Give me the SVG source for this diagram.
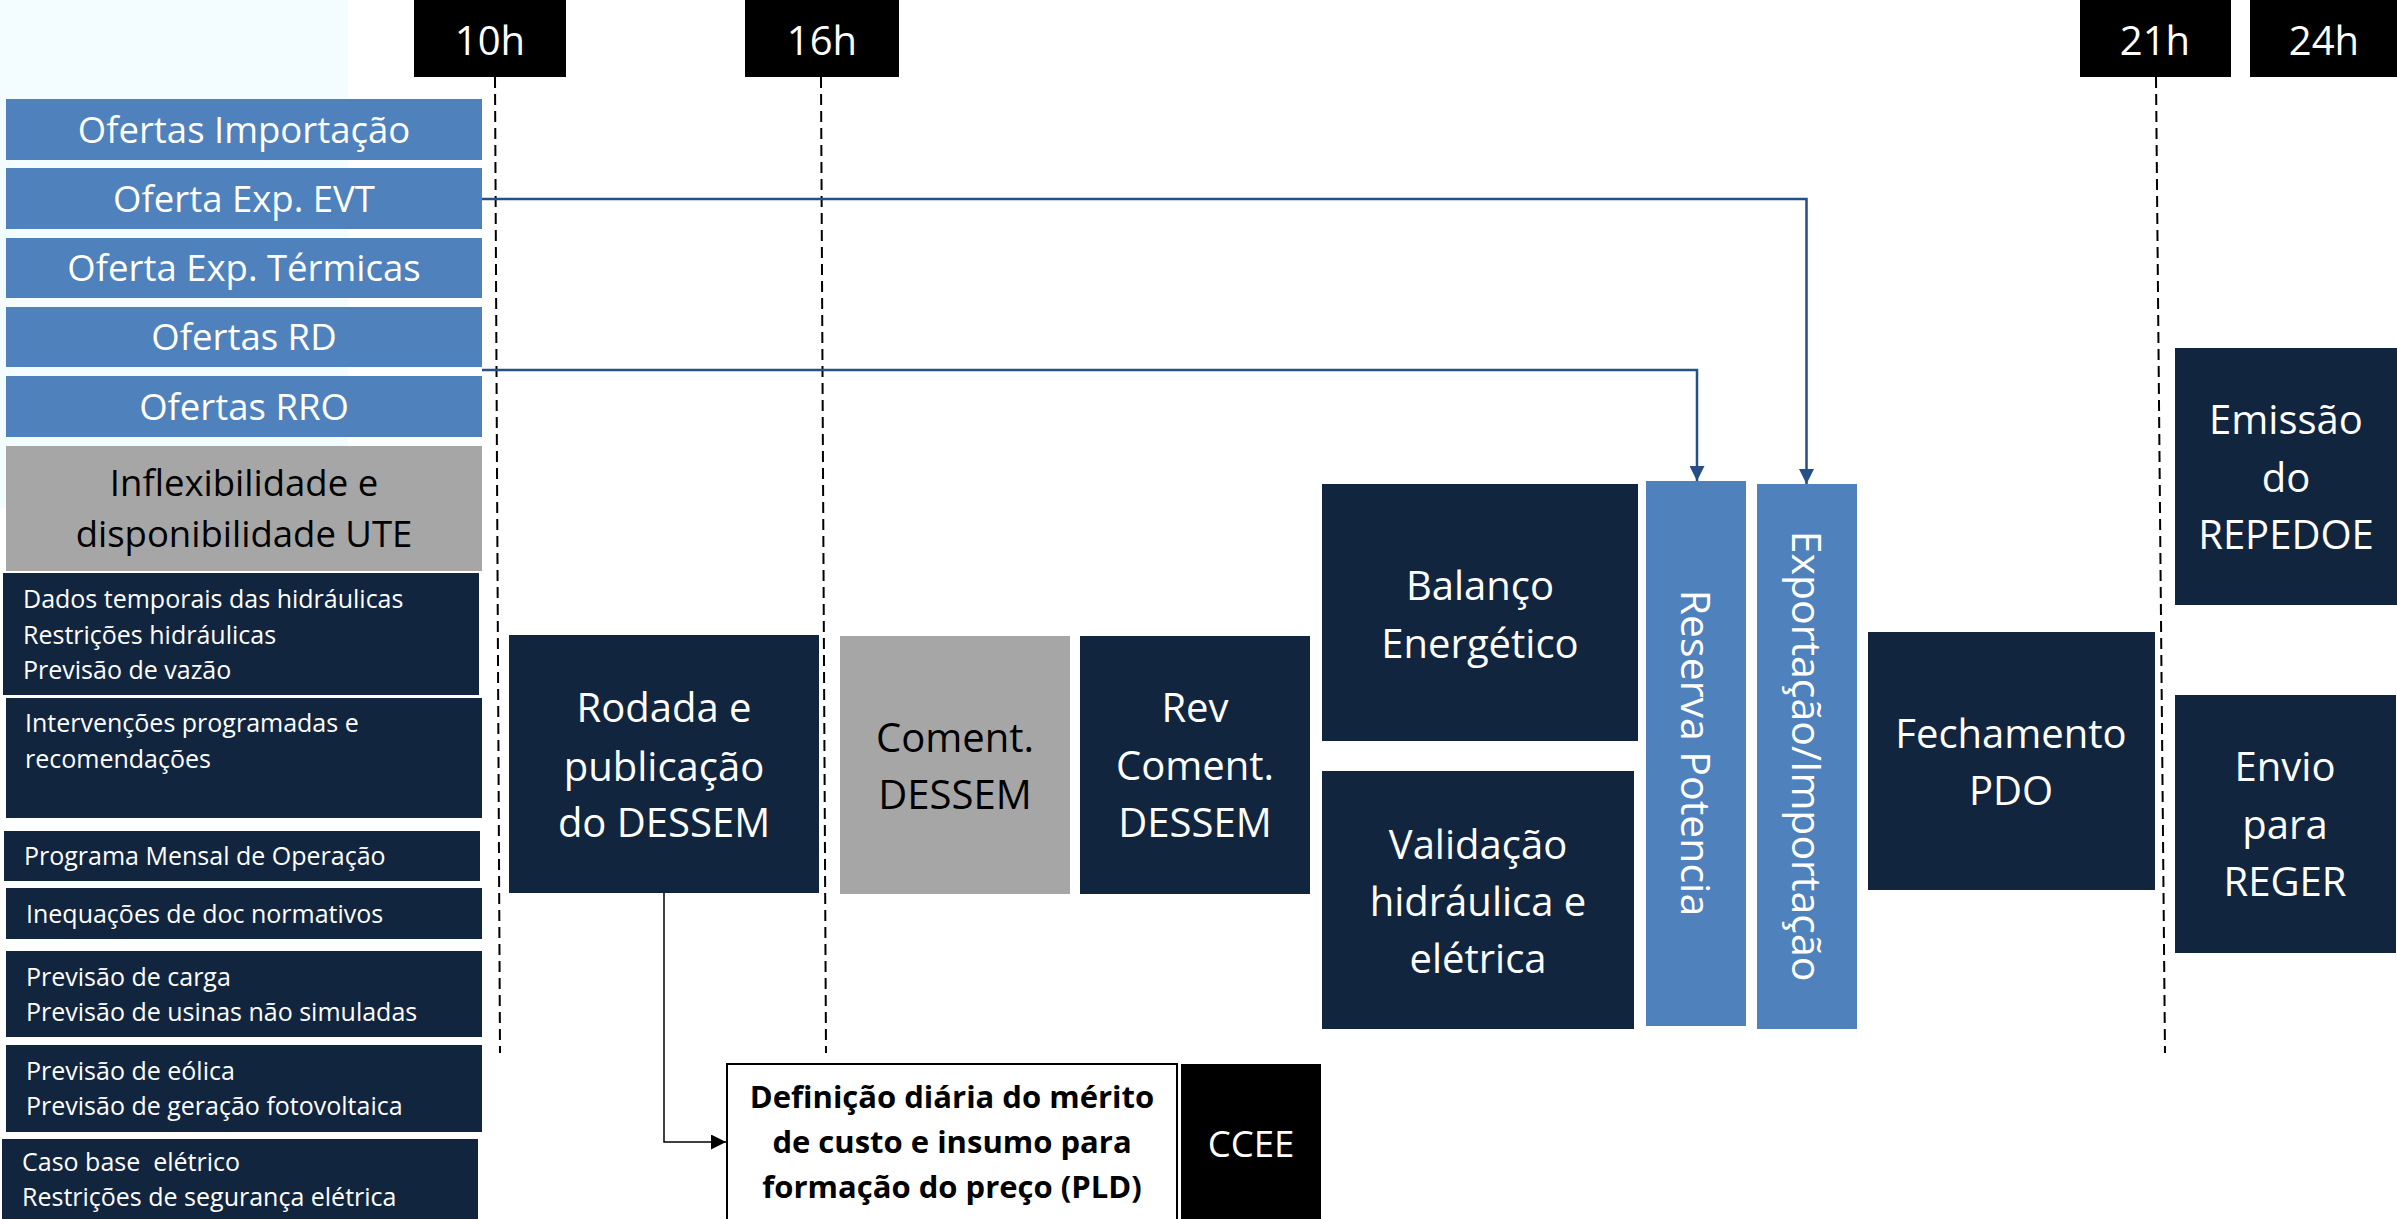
<svg xmlns="http://www.w3.org/2000/svg" width="2397" height="1219" viewBox="0 0 2397 1219">
<style>
text{font-family:"Open Sans","Noto Sans","Liberation Sans",sans-serif}
.navy{fill:#12253F}
.blue{fill:#4F81BD}
.gray{fill:#A6A6A6}
.blk{fill:#000}
.w{fill:#fff}
.b{fill:#000}
.t40{font-size:40px;text-anchor:middle}
.t41{font-size:41px;text-anchor:middle}
.t36{font-size:36.5px;text-anchor:middle}
.hd{font-size:40px;text-anchor:middle;fill:#fff}
.sm{font-size:25px;fill:#fff}
.def{font-size:31px;font-weight:bold;text-anchor:middle;fill:#000}
.dash{stroke:#000;stroke-width:2;stroke-dasharray:11 6;fill:none}
.conn{stroke:#264F85;stroke-width:2.5;fill:none}
.connk{stroke:#000;stroke-width:1.5;fill:none}
</style>
<defs>
<marker id="ab" viewBox="0 0 10 10" refX="10" refY="5" markerWidth="15" markerHeight="15" markerUnits="userSpaceOnUse" orient="auto"><path d="M0,0 L10,5 L0,10 z" fill="#264F85"/></marker>
<marker id="ak" viewBox="0 0 10 10" refX="10" refY="5" markerWidth="15" markerHeight="15" markerUnits="userSpaceOnUse" orient="auto"><path d="M0,0 L10,5 L0,10 z" fill="#000"/></marker>
</defs>
<rect x="0" y="0" width="2397" height="1219" fill="#fff"/>
<rect x="0" y="0" width="348" height="508" fill="#F3FDFF"/>

<g id="timeline">
<g id="h10"><rect class="blk" x="414" y="0" width="152" height="77"/><text class="hd" x="490" y="55">10h</text></g>
<g id="h16"><rect class="blk" x="745" y="0" width="154" height="77"/><text class="hd" x="822" y="55">16h</text></g>
<g id="h21"><rect class="blk" x="2080" y="0" width="151" height="77"/><text class="hd" x="2155" y="55">21h</text></g>
<g id="h24"><rect class="blk" x="2250" y="0" width="147" height="77"/><text class="hd" x="2324" y="55">24h</text></g>
<path class="dash" d="M495,77 L500,1053"/>
<path class="dash" d="M821,77 L826,1053"/>
<path class="dash" d="M2156,77 L2165,1053"/>
</g>

<g id="n-ofimp"><rect class="blue" x="6" y="99" width="476" height="61"/><text class="t36 w" x="244" y="143">Ofertas Importação</text></g>
<g id="n-evt"><rect class="blue" x="6" y="168" width="476" height="61"/><text class="t36 w" x="244" y="212">Oferta Exp. EVT</text></g>
<g id="n-term"><rect class="blue" x="6" y="238" width="476" height="60"/><text class="t36 w" x="244" y="281">Oferta Exp. Térmicas</text></g>
<g id="n-rd"><rect class="blue" x="6" y="307" width="476" height="60"/><text class="t36 w" x="244" y="350">Ofertas RD</text></g>
<g id="n-rro"><rect class="blue" x="6" y="376" width="476" height="61"/><text class="t36 w" x="244" y="420">Ofertas RRO</text></g>
<g id="n-inflex"><rect class="gray" x="6" y="446" width="476" height="125"/><text class="t36 b" x="244" y="496">Inflexibilidade e</text><text class="t36 b" x="244" y="547">disponibilidade UTE</text></g>

<g id="n-dados"><rect class="navy" x="3" y="573" width="476" height="122"/><text class="sm" x="23" y="608">Dados temporais das hidráulicas</text><text class="sm" x="23" y="644">Restrições hidráulicas</text><text class="sm" x="23" y="679">Previsão de vazão</text></g>
<g id="n-interv"><rect class="navy" x="6" y="698" width="476" height="120"/><text class="sm" x="25" y="732">Intervenções programadas e</text><text class="sm" x="25" y="768">recomendações</text></g>
<g id="n-pmo"><rect class="navy" x="4" y="831" width="476" height="50"/><text class="sm" x="24" y="865">Programa Mensal de Operação</text></g>
<g id="n-ineq"><rect class="navy" x="6" y="888" width="476" height="51"/><text class="sm" x="26" y="923">Inequações de doc normativos</text></g>
<g id="n-carga"><rect class="navy" x="6" y="951" width="476" height="86"/><text class="sm" x="26" y="986">Previsão de carga</text><text class="sm" x="26" y="1021">Previsão de usinas não simuladas</text></g>
<g id="n-eol"><rect class="navy" x="6" y="1045" width="476" height="87"/><text class="sm" x="26" y="1080">Previsão de eólica</text><text class="sm" x="26" y="1115">Previsão de geração fotovoltaica</text></g>
<g id="n-caso"><rect class="navy" x="2" y="1139" width="476" height="80"/><text class="sm" x="22" y="1171" xml:space="preserve">Caso base  elétrico</text><text class="sm" x="22" y="1206">Restrições de segurança elétrica</text></g>

<g id="n-rodada"><rect class="navy" x="509" y="635" width="310" height="258"/><text class="t40 w" x="664" y="722">Rodada e</text><text class="t40 w" x="664" y="781">publicação</text><text class="t40 w" x="664" y="837">do DESSEM</text></g>
<g id="n-coment"><rect class="gray" x="840" y="636" width="230" height="258"/><text class="t40 b" x="955" y="752">Coment.</text><text class="t40 b" x="955" y="809">DESSEM</text></g>
<g id="n-rev"><rect class="navy" x="1080" y="636" width="230" height="258"/><text class="t40 w" x="1195" y="722">Rev</text><text class="t40 w" x="1195" y="780">Coment.</text><text class="t40 w" x="1195" y="837">DESSEM</text></g>
<g id="n-balanco"><rect class="navy" x="1322" y="484" width="316" height="257"/><text class="t40 w" x="1480" y="600">Balanço</text><text class="t40 w" x="1480" y="658">Energético</text></g>
<g id="n-valid"><rect class="navy" x="1322" y="771" width="312" height="258"/><text class="t40 w" x="1478" y="859">Validação</text><text class="t40 w" x="1478" y="916">hidráulica e</text><text class="t40 w" x="1478" y="973">elétrica</text></g>
<g id="n-reserva"><rect class="blue" x="1646" y="481" width="100" height="545"/><text class="t41 w" transform="translate(1696,753) rotate(90)" x="0" y="15">Reserva Potencia</text></g>
<g id="n-export"><rect class="blue" x="1757" y="484" width="100" height="545"/><text class="t41 w" transform="translate(1807,756) rotate(90)" x="0" y="15">Exportação/Importação</text></g>
<g id="n-fech"><rect class="navy" x="1868" y="632" width="287" height="258"/><text class="t40 w" x="2011" y="748">Fechamento</text><text class="t40 w" x="2011" y="805">PDO</text></g>
<g id="n-emissao"><rect class="navy" x="2175" y="348" width="222" height="257"/><text class="t40 w" x="2286" y="434">Emissão</text><text class="t40 w" x="2286" y="492">do</text><text class="t40 w" x="2286" y="549">REPEDOE</text></g>
<g id="n-envio"><rect class="navy" x="2175" y="695" width="221" height="258"/><text class="t40 w" x="2285" y="781">Envio</text><text class="t40 w" x="2285" y="839">para</text><text class="t40 w" x="2285" y="896">REGER</text></g>
<g id="n-def"><rect x="727" y="1064" width="450" height="160" fill="#fff" stroke="#000" stroke-width="2"/><text class="def" x="952" y="1108">Definição diária do mérito</text><text class="def" x="952" y="1153">de custo e insumo para</text><text class="def" x="952" y="1198">formação do preço (PLD)</text></g>
<g id="n-ccee"><rect class="blk" x="1181" y="1064" width="140" height="160"/><text class="t36 w" x="1251" y="1157">CCEE</text></g>

<g id="connectors">
<path class="conn" d="M482,199 H1806.5 V484" marker-end="url(#ab)"/>
<path class="conn" d="M482,370 H1697 V481" marker-end="url(#ab)"/>
<path class="connk" d="M664,893 V1142 H726" marker-end="url(#ak)"/>
</g>
</svg>
